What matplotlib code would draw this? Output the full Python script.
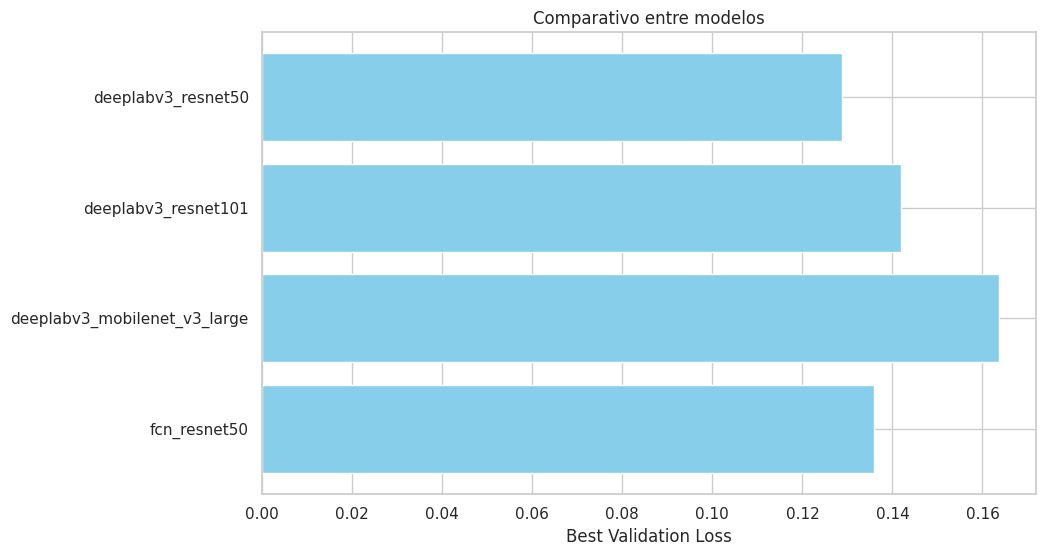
import matplotlib
matplotlib.use("Agg")
import matplotlib.pyplot as plt
import seaborn as sns

MODELS = [
    "deeplabv3_resnet50",
    "deeplabv3_resnet101",
    "deeplabv3_mobilenet_v3_large",
    "fcn_resnet50",
]
BEST_VAL_LOSS = [0.1287, 0.1420, 0.1636, 0.1360]

sns.set_theme(style="whitegrid")

fig = plt.figure(figsize=(10.46, 5.56), dpi=100)
ax = fig.add_axes([0.2505, 0.1115, 0.7395, 0.8309])

ax.barh(MODELS, BEST_VAL_LOSS, color="skyblue")
ax.invert_yaxis()
ax.set_xlabel("Best Validation Loss")
ax.set_title("Comparativo entre modelos")

fig.savefig("out.png", dpi=100)
